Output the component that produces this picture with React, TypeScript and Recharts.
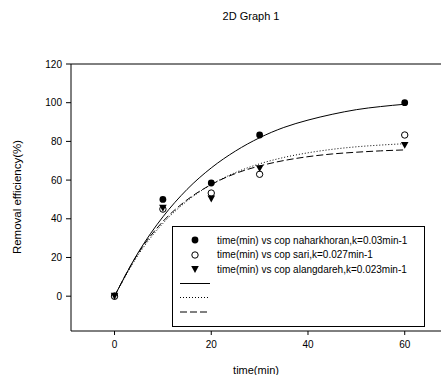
import React from 'react';
import { ComposedChart, Line, Scatter, XAxis, YAxis, Legend, ReferenceLine, Label } from 'recharts';

// measured points (time in min, removal efficiency in %)
const times = [0, 10, 20, 30, 60];
const naharkhoran = [0, 50, 58.5, 83.3, 100];
const sari = [0, 45, 53.3, 63, 83.3];
const alangdareh = [0, 45.5, 50.3, 66, 78];

// fitted curves
const fitTimes = [0, 5, 10, 15, 20, 25, 30, 35, 40, 45, 50, 55, 60];
const fitNaharkhoran = [0, 23, 41, 55.2, 66.3, 75, 81.9, 87.2, 91, 94, 96.4, 98, 99.2];
const fitSari = [0, 21.7, 37.6, 49.2, 57.7, 63.9, 68.4, 71.7, 74.1, 75.9, 77.2, 78.1, 78.8];
const fitAlangdareh = [0, 22.6, 38.6, 49.8, 57.7, 63.4, 67.3, 70.1, 72.1, 73.5, 74.4, 75.1, 75.6];

const xTicks = [0, 20, 40, 60];
const yTicks = [0, 20, 40, 60, 80, 100, 120];

const legendLabels = [
  'time(min) vs cop naharkhoran,k=0.03min-1',
  'time(min) vs cop sari,k=0.027min-1',
  'time(min) vs cop alangdareh,k=0.023min-1',
];

const FONT = '"Liberation Sans", Arial, sans-serif';

const toPoints = (xs: number[], ys: number[]) => xs.map((t, i) => ({ t, v: ys[i] }));

const FilledDot = (p: any) => <circle cx={p.cx} cy={p.cy} r={3.4} fill="#000" />;
const OpenDot = (p: any) => <circle cx={p.cx} cy={p.cy} r={3.2} fill="#fff" stroke="#000" strokeWidth={1} />;
const Triangle = (p: any) => (
  <polygon
    points={`${p.cx - 3.8},${p.cy - 3.3} ${p.cx + 3.8},${p.cy - 3.3} ${p.cx},${p.cy + 3.6}`}
    fill="#000"
  />
);

const LegendBox = () => (
  <svg width={253} height={101} style={{ display: 'block' }}>
    <rect x={0.5} y={0.5} width={252} height={100} fill="#fff" stroke="#000" strokeWidth={1} />
    <circle cx={23} cy={14} r={3.4} fill="#000" />
    <circle cx={23} cy={29} r={3.2} fill="#fff" stroke="#000" />
    <polygon points="19.2,40 26.8,40 23,47" fill="#000" />
    {legendLabels.map((s, i) => (
      <text key={s} x={45} y={14 + i * 14.6} fontSize={10} fontFamily={FONT} dominantBaseline="central" fill="#000">
        {s}
      </text>
    ))}
    <line x1={8} x2={38} y1={57.5} y2={57.5} stroke="#000" strokeWidth={1} />
    <line x1={8} x2={38} y1={71.5} y2={71.5} stroke="#000" strokeWidth={1} strokeDasharray="1 2" />
    <line x1={8} x2={38} y1={86} y2={86} stroke="#000" strokeWidth={1} strokeDasharray="7 3" />
  </svg>
);

const App = () => {
  return (
    <div style={{ position: 'absolute', left: 0, top: 0, width: 441, height: 375, background: '#fff', fontFamily: FONT }}>
      <div style={{ position: 'absolute', left: 0, top: 10, width: 502, textAlign: 'center', fontSize: 11, color: '#000' }}>
        2D Graph 1
      </div>
      <ComposedChart width={441} height={375} margin={{ top: 64, right: 0, bottom: 0, left: 0 }}>
        <XAxis
          type="number"
          dataKey="t"
          domain={[-9, 67.5]}
          ticks={xTicks}
          allowDataOverflow
          height={44}
          stroke="#000"
          tickSize={4}
          tickMargin={6}
          tick={{ fill: '#000', fontSize: 10, fontFamily: FONT }}
        >
          <Label value="time(min)" position="insideBottom" offset={1} fill="#000" fontSize={11} fontFamily={FONT} />
        </XAxis>
        <YAxis
          type="number"
          dataKey="v"
          domain={[-18, 120]}
          ticks={yTicks}
          allowDataOverflow
          width={71}
          stroke="#000"
          tickSize={5}
          tickMargin={4}
          tick={{ fill: '#000', fontSize: 10, fontFamily: FONT }}
        >
          <Label
            content={() => (
              <text
                x={17}
                y={197}
                transform="rotate(-90 17 197)"
                textAnchor="middle"
                dominantBaseline="central"
                fontSize={11.5}
                fontFamily={FONT}
                fill="#000"
              >
                Removal efficiency(%)
              </text>
            )}
          />
        </YAxis>
        <ReferenceLine y={120} stroke="#000" strokeWidth={1} />
        <Line data={toPoints(fitTimes, fitNaharkhoran)} dataKey="v" type="monotone" stroke="#000" strokeWidth={1} dot={false} isAnimationActive={false} />
        <Line data={toPoints(fitTimes, fitSari)} dataKey="v" type="monotone" stroke="#000" strokeWidth={1} strokeDasharray="1 2" dot={false} isAnimationActive={false} />
        <Line data={toPoints(fitTimes, fitAlangdareh)} dataKey="v" type="monotone" stroke="#000" strokeWidth={1} strokeDasharray="7 3" dot={false} isAnimationActive={false} />
        <Scatter data={toPoints(times, naharkhoran)} dataKey="v" shape={FilledDot} isAnimationActive={false} />
        <Scatter data={toPoints(times, sari)} dataKey="v" shape={OpenDot} isAnimationActive={false} />
        <Scatter data={toPoints(times, alangdareh)} dataKey="v" shape={Triangle} isAnimationActive={false} />
        <Legend
          layout="vertical"
          align="center"
          verticalAlign="middle"
          content={() => <LegendBox />}
          wrapperStyle={{ left: 172, top: 226, width: 253, height: 101 }}
        />
      </ComposedChart>
    </div>
  );
};

export default App;
